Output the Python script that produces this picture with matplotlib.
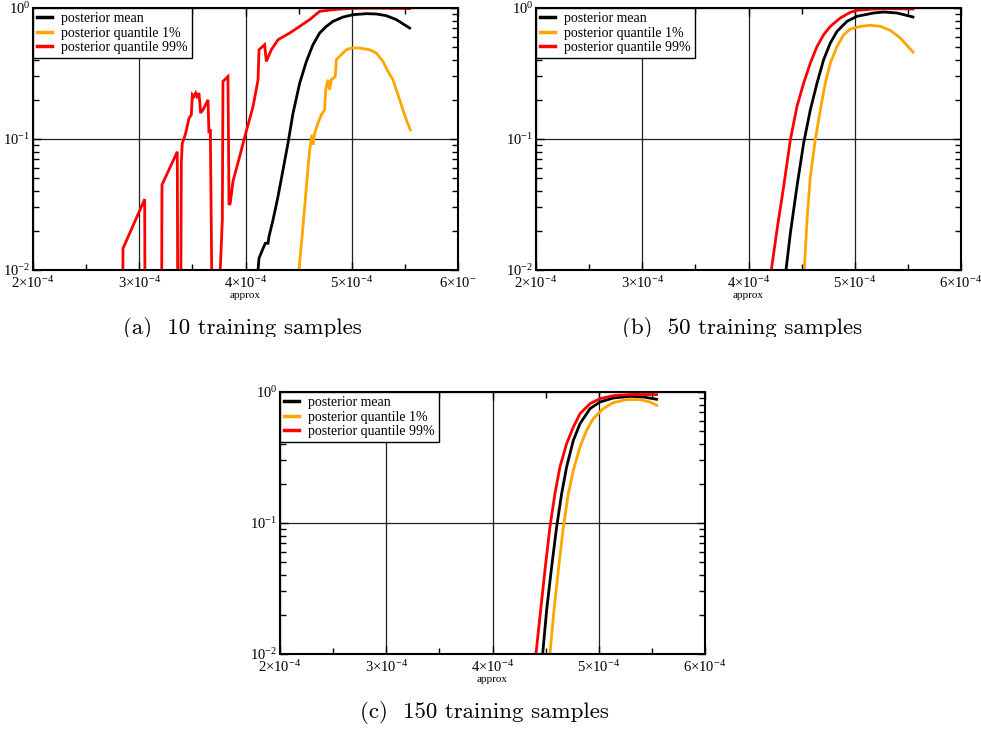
import numpy as np
import matplotlib
matplotlib.use("Agg")
import matplotlib.pyplot as plt
from matplotlib.ticker import FixedLocator, LogLocator, NullFormatter
from matplotlib.patches import Rectangle

plt.rcParams['mathtext.fontset'] = 'custom'
plt.rcParams['mathtext.rm'] = 'Liberation Serif'
plt.rcParams['mathtext.it'] = 'Liberation Serif:italic'
plt.rcParams['mathtext.bf'] = 'Liberation Serif:bold'
plt.rcParams['font.family'] = 'Liberation Serif'

LOW = 1e-3  # values below the plotted range (curve leaves the axes)

# ---------- (a) 10 training samples  (x in units of 1e-4) ----------
a_red_x = [2.841, 2.847, 3.051, 3.057, 3.208, 3.214, 3.358, 3.365, 3.387, 3.396, 3.405, 3.418, 3.437,
           3.468, 3.490, 3.500, 3.515, 3.531, 3.544, 3.562, 3.578, 3.600, 3.647, 3.656, 3.669, 3.694,
           3.710, 3.782, 3.788, 3.835, 3.845, 3.857, 3.882, 3.945, 3.998, 4.071, 4.118, 4.127, 4.180,
           4.196, 4.243, 4.306, 4.416, 4.510, 4.604, 4.698, 4.824, 4.980, 5.137, 5.300, 5.545]
a_red_y = [LOW, 0.0146, 0.0347, LOW, LOW, 0.0447, 0.080, LOW, LOW, 0.067, 0.093, 0.0986, 0.111,
           0.144, 0.153, 0.218, 0.211, 0.224, 0.211, 0.224, 0.158, 0.167, 0.199, 0.111, 0.118, LOW,
           LOW, 0.0241, 0.275, 0.300, 0.0314, 0.0323, 0.0474, 0.0735, 0.1076, 0.177, 0.283, 0.480, 0.525,
           0.391, 0.480, 0.573, 0.644, 0.724, 0.815, 0.943, 0.971, 0.993, 0.997, 0.997, 0.99]
a_mean_x = [4.112, 4.118, 4.127, 4.165, 4.187, 4.212, 4.221, 4.259, 4.306, 4.353, 4.400, 4.447, 4.510,
            4.573, 4.635, 4.698, 4.761, 4.824, 4.918, 5.012, 5.137, 5.231, 5.325, 5.420, 5.545]
a_mean_y = [0.008, 0.010, 0.0123, 0.0146, 0.0160, 0.0160, 0.0180, 0.0241, 0.0364, 0.0581, 0.093, 0.157, 0.267,
            0.391, 0.525, 0.644, 0.724, 0.791, 0.853, 0.889, 0.905, 0.900, 0.874, 0.815, 0.703]
a_q01_x = [4.495, 4.503, 4.541, 4.573, 4.604, 4.626, 4.635, 4.651, 4.682, 4.714, 4.745, 4.755, 4.776,
           4.792, 4.808, 4.845, 4.855, 4.886, 4.949, 4.996, 5.075, 5.169, 5.231, 5.294, 5.341, 5.388,
           5.435, 5.482, 5.514, 5.551]
a_q01_y = [0.008, 0.010, 0.0214, 0.0434, 0.0826, 0.1076, 0.0902, 0.111, 0.132, 0.153, 0.167, 0.238, 0.283,
           0.238, 0.283, 0.300, 0.403, 0.428, 0.480, 0.495, 0.495, 0.480, 0.453, 0.391, 0.328, 0.283,
           0.218, 0.167, 0.140, 0.1175]

# ---------- (b) 50 training samples ----------
b_red_x = [4.205, 4.215, 4.268, 4.331, 4.394, 4.456, 4.519, 4.582, 4.645, 4.707, 4.770, 4.864, 4.958,
           5.021, 5.178, 5.335, 5.548]
b_red_y = [0.008, 0.010, 0.0202, 0.0434, 0.0986, 0.177, 0.267, 0.380, 0.509, 0.625, 0.724, 0.839, 0.927,
           0.960, 0.982, 0.988, 0.982]
b_mean_x = [4.345, 4.353, 4.394, 4.456, 4.519, 4.582, 4.645, 4.707, 4.770, 4.833, 4.927, 5.021, 5.178,
            5.272, 5.398, 5.548]
b_mean_y = [0.008, 0.010, 0.0191, 0.0434, 0.093, 0.167, 0.267, 0.403, 0.540, 0.663, 0.791, 0.864, 0.916,
            0.932, 0.916, 0.854]
b_q01_x = [4.520, 4.525, 4.551, 4.582, 4.629, 4.676, 4.723, 4.770, 4.833, 4.896, 4.958, 5.053, 5.147,
           5.241, 5.335, 5.429, 5.548]
b_q01_y = [0.008, 0.010, 0.0241, 0.0517, 0.0986, 0.167, 0.267, 0.380, 0.509, 0.625, 0.691, 0.724, 0.738,
           0.724, 0.675, 0.590, 0.461]

# ---------- (c) 150 training samples ----------
c_red_x = [4.402, 4.409, 4.447, 4.494, 4.541, 4.588, 4.635, 4.698, 4.761, 4.824, 4.918, 5.012, 5.137,
           5.325, 5.545]
c_red_y = [0.008, 0.010, 0.0194, 0.0439, 0.0938, 0.168, 0.269, 0.404, 0.541, 0.684, 0.815, 0.890, 0.938,
           0.960, 0.954]
c_mean_x = [4.465, 4.472, 4.510, 4.557, 4.604, 4.651, 4.698, 4.761, 4.824, 4.918, 5.012, 5.137, 5.294,
            5.420, 5.545]
c_mean_y = [0.008, 0.010, 0.0218, 0.0465, 0.0938, 0.168, 0.269, 0.428, 0.574, 0.747, 0.839, 0.900, 0.927,
            0.916, 0.880]
c_q01_x = [4.535, 4.541, 4.573, 4.620, 4.667, 4.714, 4.761, 4.824, 4.886, 4.949, 5.043, 5.137, 5.263,
           5.388, 5.482, 5.545]
c_q01_y = [0.008, 0.010, 0.0194, 0.0439, 0.0938, 0.168, 0.253, 0.381, 0.511, 0.627, 0.747, 0.830, 0.875,
           0.875, 0.839, 0.792]

series_labels = ["posterior mean", "posterior quantile 1%", "posterior quantile 99%"]
series_colors = ["black", "#FFA500", "#FF0000"]

x_ticks = [2, 3, 4, 5, 6]
x_ticklabels_full = [r"$2{\times}10^{-4}$", r"$3{\times}10^{-4}$", r"$4{\times}10^{-4}$",
                     r"$5{\times}10^{-4}$", r"$6{\times}10^{-4}$"]
x_ticklabels_a = x_ticklabels_full[:4] + [r"$6{\times}10^{-}$"]
y_ticks = [1e-2, 1e-1, 1e0]
y_ticklabels = [r"$10^{-2}$", r"$10^{-1}$", r"$10^{0}$"]
captions = ["(a)  10 training samples", "(b)  50 training samples", "(c)  150 training samples"]

fig = plt.figure(figsize=(9.81, 7.30), dpi=100)
W, H = 981.0, 730.0

def make_axes(left, top, right, bottom):
    return fig.add_axes([left / W, 1 - bottom / H, (right - left) / W, (bottom - top) / H])

ax_a = make_axes(33, 8, 458, 270)
ax_b = make_axes(536, 8, 961, 270)
ax_c = make_axes(280, 392, 705, 654)

panels = [
    (ax_a, (a_mean_x, a_mean_y), (a_q01_x, a_q01_y), (a_red_x, a_red_y), x_ticklabels_a),
    (ax_b, (b_mean_x, b_mean_y), (b_q01_x, b_q01_y), (b_red_x, b_red_y), x_ticklabels_full),
    (ax_c, (c_mean_x, c_mean_y), (c_q01_x, c_q01_y), (c_red_x, c_red_y), x_ticklabels_full),
]

for ax, mean, q01, q99, xtl in panels:
    for (xs, ys), lab, col in zip([mean, q01, q99], series_labels, series_colors):
        ax.plot(np.array(xs) * 1e-4, ys, color=col, lw=2.0, label=lab, solid_joinstyle='miter')
    ax.set_yscale('log')
    ax.set_xlim(2e-4, 6e-4)
    ax.set_ylim(1e-2, 1e0)
    ax.xaxis.set_major_locator(FixedLocator([v * 1e-4 for v in x_ticks]))
    ax.xaxis.set_minor_locator(FixedLocator([2.5e-4, 3.5e-4, 4.5e-4, 5.5e-4]))
    ax.set_xticklabels(xtl, fontsize=10.5)
    ax.yaxis.set_major_locator(FixedLocator(y_ticks))
    ax.yaxis.set_minor_locator(LogLocator(base=10, subs=np.arange(2, 10)))
    ax.yaxis.set_minor_formatter(NullFormatter())
    ax.set_yticklabels(y_ticklabels, fontsize=10.5)
    ax.tick_params(which='both', direction='in', top=True, right=True, width=1.0)
    ax.tick_params(which='major', length=6)
    ax.tick_params(which='minor', length=4)
    ax.tick_params(axis='x', which='major', pad=4)
    ax.tick_params(axis='y', which='major', pad=2)
    ax.grid(True, which='major', color='#222222', lw=0.9)
    for s in ax.spines.values():
        s.set_linewidth(1.5)
    ax.set_xlabel("approx", fontsize=8, labelpad=0)
    leg = ax.legend(loc='upper left', borderaxespad=0, fancybox=False, framealpha=1,
                    edgecolor='black', fontsize=10, handlelength=1.1, handletextpad=0.65,
                    borderpad=0.3, labelspacing=0.1)
    leg.get_frame().set_linewidth(1.0)
    for ln in leg.get_lines():
        ln.set_linewidth(2.5)

fig.text(242 / W, 1 - 334 / H, captions[0], ha='center', va='baseline', fontsize=16.5, family='cmr10')
fig.text(742 / W, 1 - 334 / H, captions[1], ha='center', va='baseline', fontsize=16.5, family='cmr10')
fig.text(484 / W, 1 - 718 / H, captions[2], ha='center', va='baseline', fontsize=16.5, family='cmr10')

# the reference image is cropped just below the first row of captions
fig.add_artist(Rectangle((0, 1 - 347 / H), 1, 10 / H, transform=fig.transFigure,
                         facecolor='white', edgecolor='none', zorder=10))

fig.savefig("out.png", dpi=100)
